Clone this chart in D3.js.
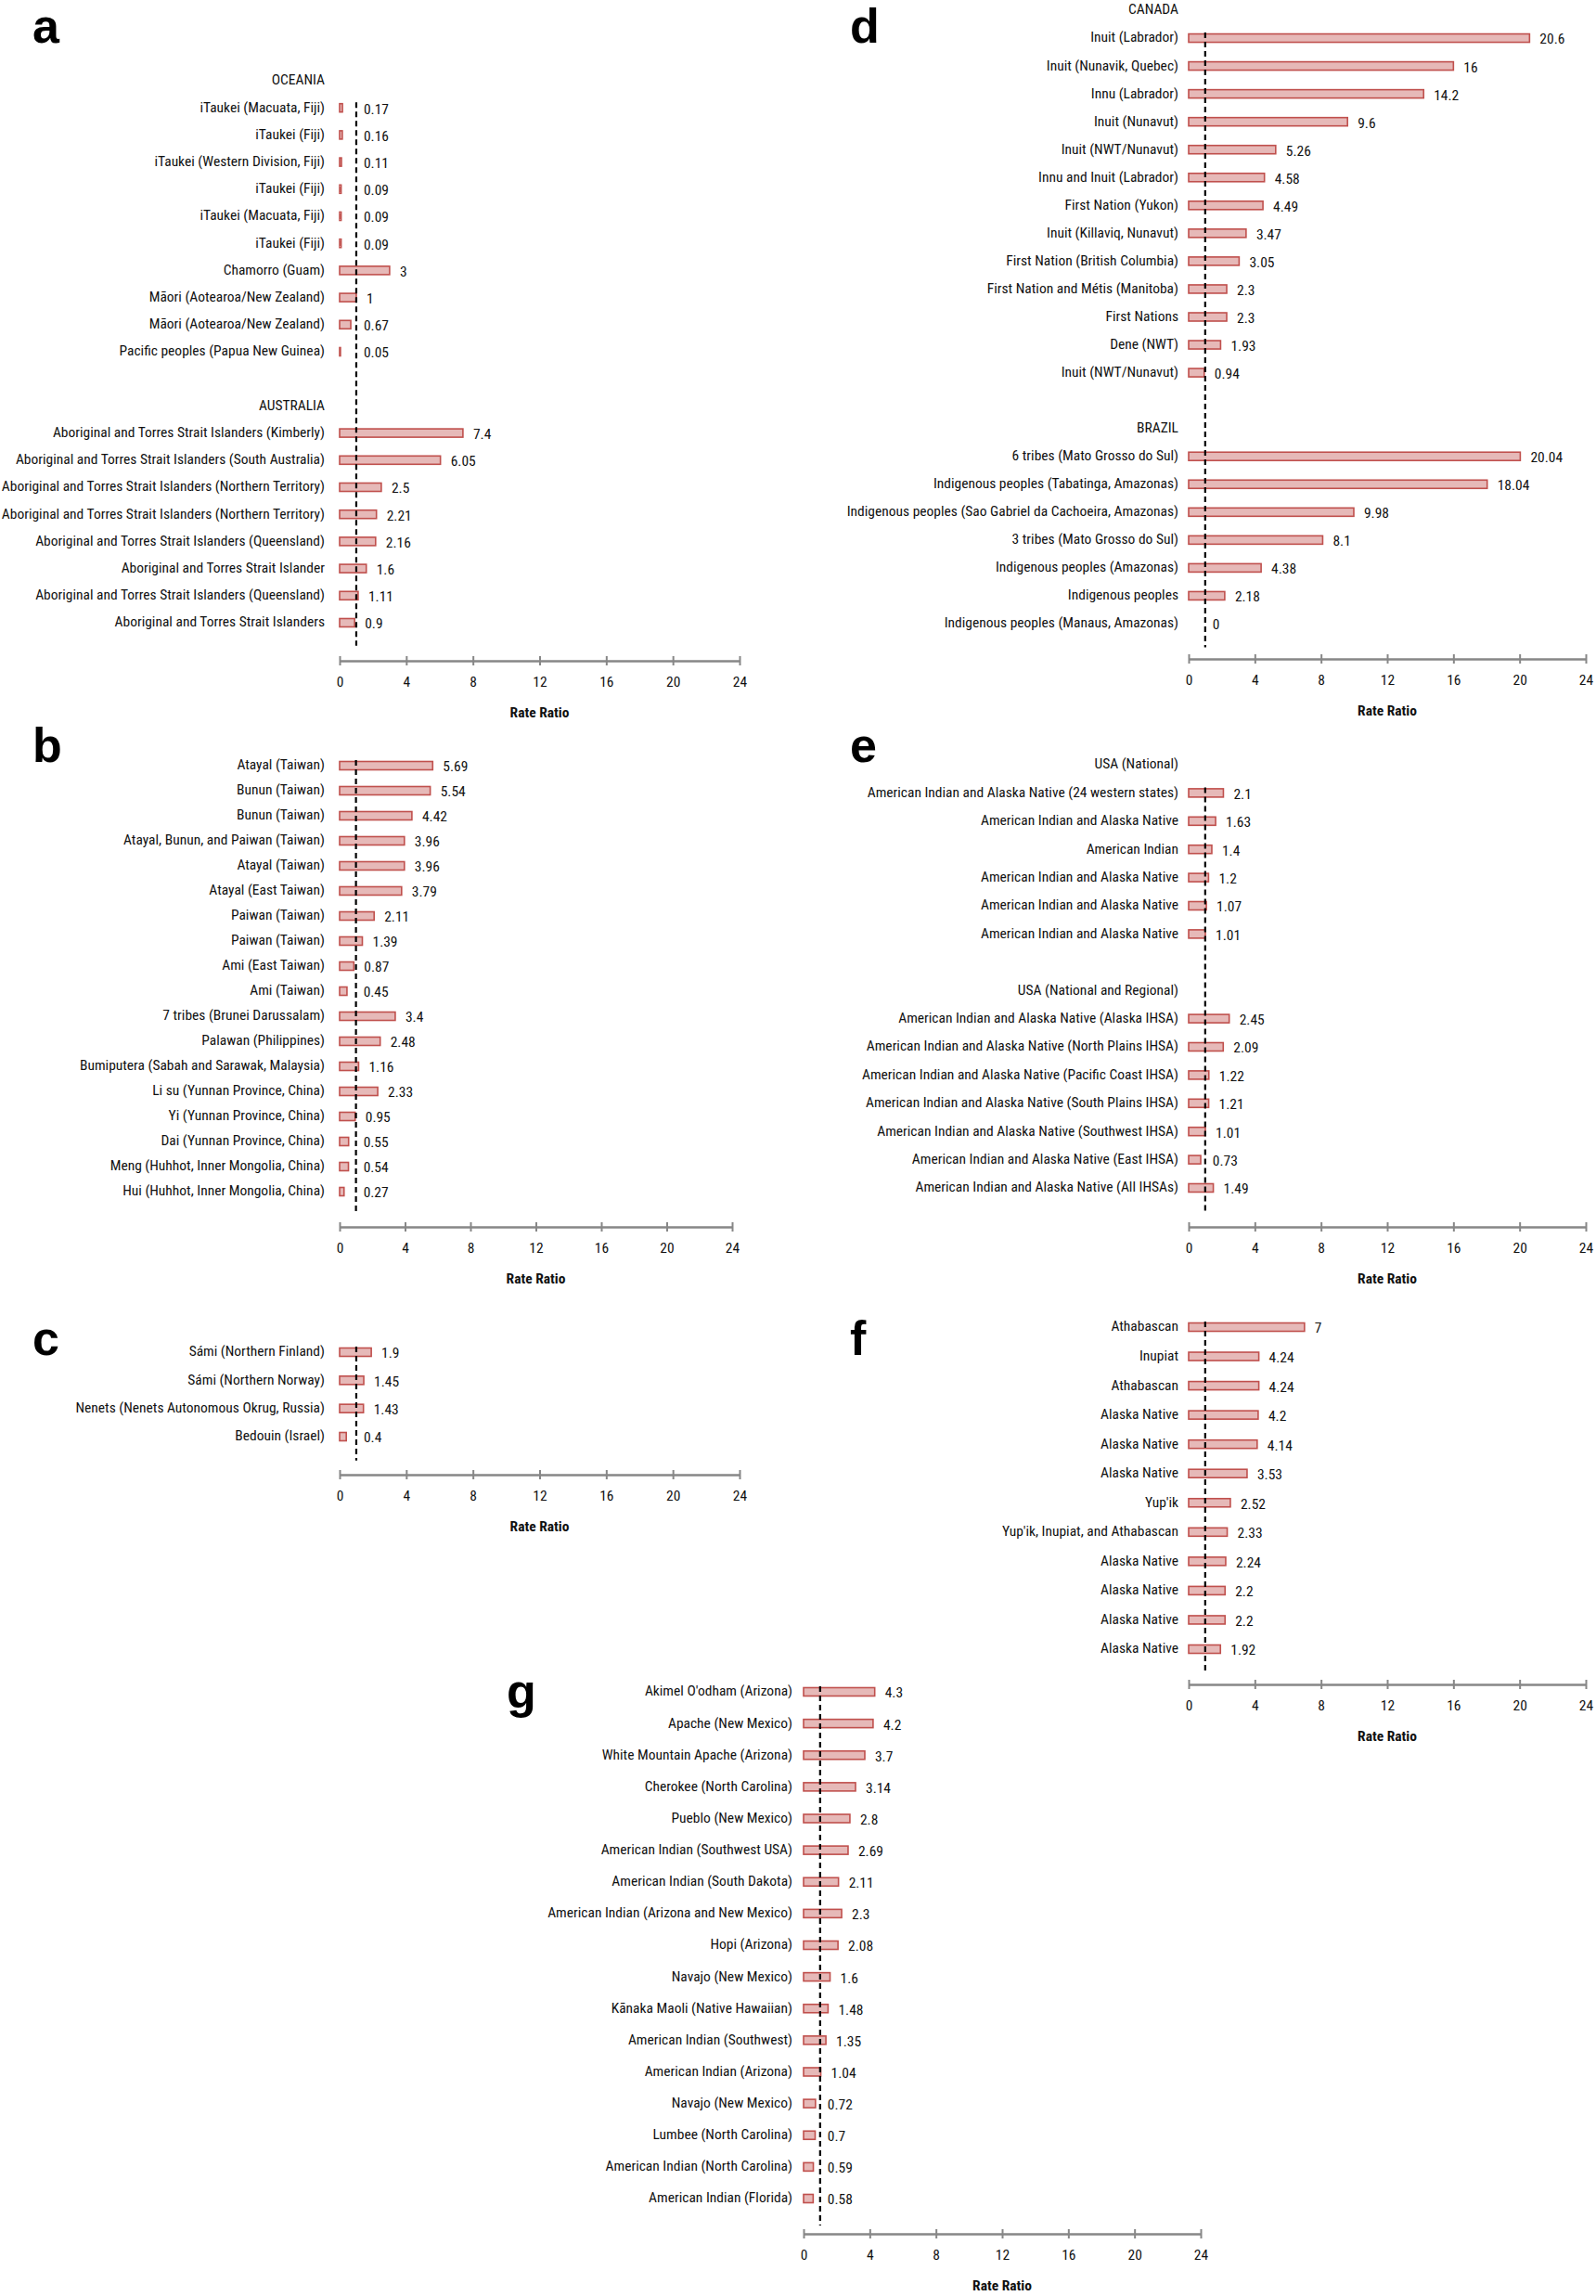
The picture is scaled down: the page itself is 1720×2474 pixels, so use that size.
<!DOCTYPE html>
<html>
<head>
<meta charset="utf-8">
<script src="https://cdn.jsdelivr.net/npm/d3@7"></script>
<style>
  html, body { margin: 0; padding: 0; background: #fff; }
  svg { display: block; }
  .lab { font-family: "Liberation Sans Narrow", "Arial Narrow", "Roboto Condensed", "Liberation Sans", sans-serif; font-size: 15.5px; fill: #111; }
  .letter { font-family: "Liberation Sans", Arial, sans-serif; font-weight: bold; font-size: 52px; fill: #000; }
</style>
</head>
<body>
<svg id="chart" width="1720" height="2474"></svg>
<script>
// ---------------- DATA ----------------
const tickValues = [0, 4, 8, 12, 16, 20, 24];
const axisTitle = "Rate Ratio";

const aLabels = ["OCEANIA",
  "iTaukei (Macuata, Fiji)", "iTaukei (Fiji)", "iTaukei (Western Division, Fiji)", "iTaukei (Fiji)",
  "iTaukei (Macuata, Fiji)", "iTaukei (Fiji)", "Chamorro (Guam)", "Māori (Aotearoa/New Zealand)",
  "Māori (Aotearoa/New Zealand)", "Pacific peoples (Papua New Guinea)", "",
  "AUSTRALIA",
  "Aboriginal and Torres Strait Islanders (Kimberly)", "Aboriginal and Torres Strait Islanders (South Australia)",
  "Aboriginal and Torres Strait Islanders (Northern Territory)", "Aboriginal and Torres Strait Islanders (Northern Territory)",
  "Aboriginal and Torres Strait Islanders (Queensland)", "Aboriginal and Torres Strait Islander",
  "Aboriginal and Torres Strait Islanders (Queensland)", "Aboriginal and Torres Strait Islanders"];
const aValues = [null, 0.17, 0.16, 0.11, 0.09, 0.09, 0.09, 3, 1, 0.67, 0.05, null,
  null, 7.4, 6.05, 2.5, 2.21, 2.16, 1.6, 1.11, 0.9];

const bLabels = ["Atayal (Taiwan)", "Bunun (Taiwan)", "Bunun (Taiwan)", "Atayal, Bunun, and Paiwan (Taiwan)",
  "Atayal (Taiwan)", "Atayal (East Taiwan)", "Paiwan (Taiwan)", "Paiwan (Taiwan)", "Ami (East Taiwan)",
  "Ami (Taiwan)", "7 tribes (Brunei Darussalam)", "Palawan (Philippines)",
  "Bumiputera (Sabah and Sarawak, Malaysia)", "Li su (Yunnan Province, China)", "Yi (Yunnan Province, China)",
  "Dai (Yunnan Province, China)", "Meng (Huhhot, Inner Mongolia, China)", "Hui (Huhhot, Inner Mongolia, China)"];
const bValues = [5.69, 5.54, 4.42, 3.96, 3.96, 3.79, 2.11, 1.39, 0.87, 0.45, 3.4, 2.48, 1.16, 2.33, 0.95, 0.55, 0.54, 0.27];

const cLabels = ["Sámi (Northern Finland)", "Sámi (Northern Norway)", "Nenets (Nenets Autonomous Okrug, Russia)", "Bedouin (Israel)"];
const cValues = [1.9, 1.45, 1.43, 0.4];

const dLabels = ["CANADA",
  "Inuit (Labrador)", "Inuit (Nunavik, Quebec)", "Innu (Labrador)", "Inuit (Nunavut)", "Inuit (NWT/Nunavut)",
  "Innu and Inuit (Labrador)", "First Nation (Yukon)", "Inuit (Killaviq, Nunavut)", "First Nation (British Columbia)",
  "First Nation and Métis (Manitoba)", "First Nations", "Dene (NWT)", "Inuit (NWT/Nunavut)", "",
  "BRAZIL",
  "6 tribes (Mato Grosso do Sul)", "Indigenous peoples (Tabatinga, Amazonas)",
  "Indigenous peoples (Sao Gabriel da Cachoeira, Amazonas)", "3 tribes (Mato Grosso do Sul)",
  "Indigenous peoples (Amazonas)", "Indigenous peoples", "Indigenous peoples (Manaus, Amazonas)"];
const dValues = [null, 20.6, 16, 14.2, 9.6, 5.26, 4.58, 4.49, 3.47, 3.05, 2.3, 2.3, 1.93, 0.94, null,
  null, 20.04, 18.04, 9.98, 8.1, 4.38, 2.18, 0];

const eLabels = ["USA (National)",
  "American Indian and Alaska Native (24 western states)", "American Indian and Alaska Native", "American Indian",
  "American Indian and Alaska Native", "American Indian and Alaska Native", "American Indian and Alaska Native", "",
  "USA (National and Regional)",
  "American Indian and Alaska Native (Alaska IHSA)", "American Indian and Alaska Native (North Plains IHSA)",
  "American Indian and Alaska Native (Pacific Coast IHSA)", "American Indian and Alaska Native (South Plains IHSA)",
  "American Indian and Alaska Native (Southwest IHSA)", "American Indian and Alaska Native (East IHSA)",
  "American Indian and Alaska Native (All IHSAs)"];
const eValues = [null, 2.1, 1.63, 1.4, 1.2, 1.07, 1.01, null, null, 2.45, 2.09, 1.22, 1.21, 1.01, 0.73, 1.49];

const fLabels = ["Athabascan", "Inupiat", "Athabascan", "Alaska Native", "Alaska Native", "Alaska Native", "Yup'ik",
  "Yup'ik, Inupiat, and Athabascan", "Alaska Native", "Alaska Native", "Alaska Native", "Alaska Native"];
const fValues = [7, 4.24, 4.24, 4.2, 4.14, 3.53, 2.52, 2.33, 2.24, 2.2, 2.2, 1.92];

const gLabels = ["Akimel O'odham (Arizona)", "Apache (New Mexico)", "White Mountain Apache (Arizona)",
  "Cherokee (North Carolina)", "Pueblo (New Mexico)", "American Indian (Southwest USA)",
  "American Indian (South Dakota)", "American Indian (Arizona and New Mexico)", "Hopi (Arizona)",
  "Navajo (New Mexico)", "Kānaka Maoli (Native Hawaiian)", "American Indian (Southwest)",
  "American Indian (Arizona)", "Navajo (New Mexico)", "Lumbee (North Carolina)",
  "American Indian (North Carolina)", "American Indian (Florida)"];
const gValues = [4.3, 4.2, 3.7, 3.14, 2.8, 2.69, 2.11, 2.3, 2.08, 1.6, 1.48, 1.35, 1.04, 0.72, 0.7, 0.59, 0.58];

// ---------------- LAYOUT ----------------
const panels = [
  { letter: "a", lx: 35, ly: 46, labels: aLabels, values: aValues, x0: 366, x1: 797, yFirst: 87, yLast: 671, axisY: 712, right: 350 },
  { letter: "b", lx: 35, ly: 821, labels: bLabels, values: bValues, x0: 366, x1: 789, yFirst: 825, yLast: 1284, axisY: 1322, right: 350 },
  { letter: "c", lx: 35, ly: 1460, labels: cLabels, values: cValues, x0: 366, x1: 797, yFirst: 1457, yLast: 1548, axisY: 1589, right: 350 },
  { letter: "d", lx: 916, ly: 46, labels: dLabels, values: dValues, x0: 1281, x1: 1709, yFirst: 11, yLast: 672, axisY: 710, right: 1270 },
  { letter: "e", lx: 916, ly: 821, labels: eLabels, values: eValues, x0: 1281, x1: 1709, yFirst: 824, yLast: 1280, axisY: 1322, right: 1270 },
  { letter: "f", lx: 916, ly: 1460, labels: fLabels, values: fValues, x0: 1281, x1: 1709, yFirst: 1430, yLast: 1777, axisY: 1815, right: 1270 },
  { letter: "g", lx: 546, ly: 1840, labels: gLabels, values: gValues, x0: 866, x1: 1294, yFirst: 1823, yLast: 2369, axisY: 2407, right: 854 }
];

const barH = 9;
const barFill = "#e6b9b8";
const barStroke = "#c0504d";
const axisColor = "#878787";

const svg = d3.select("#chart");
svg.append("rect").attr("width", 1720).attr("height", 2474).attr("fill", "#fff");

panels.forEach(p => {
  const g = svg.append("g");
  const idx = p.labels.map((d, i) => i);
  const x = d3.scaleLinear().domain([0, 24]).range([p.x0, p.x1]);
  const y = d3.scalePoint().domain(idx).range([p.yFirst, p.yLast]);
  const step = y.step();

  // panel letter
  g.append("text").attr("class", "letter").attr("x", p.lx).attr("y", p.ly).text(p.letter);

  // category labels
  g.selectAll("text.cat").data(idx).join("text")
    .attr("class", "lab cat")
    .attr("x", p.right)
    .attr("y", i => y(i) - 1)
    .attr("dy", "0.35em")
    .attr("text-anchor", "end")
    .text(i => p.labels[i]);

  const dataIdx = idx.filter(i => p.values[i] !== null);

  // bars
  g.selectAll("rect.bar").data(dataIdx).join("rect")
    .attr("class", "bar")
    .attr("x", x(0))
    .attr("y", i => y(i) - barH / 2)
    .attr("width", i => Math.max(0, x(p.values[i]) - x(0)))
    .attr("height", barH)
    .attr("fill", barFill)
    .attr("stroke", i => p.values[i] > 0 ? barStroke : "none")
    .attr("stroke-width", 1.6);

  // reference line at rate ratio 1
  const firstData = d3.min(dataIdx), lastData = d3.max(dataIdx);
  g.append("line")
    .attr("x1", x(1)).attr("x2", x(1))
    .attr("y1", y(firstData) - 6)
    .attr("y2", y(lastData) + step * 0.85)
    .attr("stroke", "#000").attr("stroke-width", 2.2)
    .attr("stroke-dasharray", "6,4");

  // value labels
  g.selectAll("text.val").data(dataIdx).join("text")
    .attr("class", "lab val")
    .attr("x", i => Math.max(x(p.values[i]) + 11, x(1) + 8))
    .attr("y", i => y(i) + 1)
    .attr("dy", "0.35em")
    .text(i => String(p.values[i]));

  // axis
  const axis = d3.axisBottom(x).tickValues(tickValues).tickSize(0).tickSizeOuter(0).tickPadding(17);
  const ag = g.append("g").attr("transform", `translate(0,${p.axisY})`).call(axis);
  ag.select(".domain").attr("stroke", axisColor).attr("stroke-width", 2.4);
  ag.selectAll(".tick").append("line").attr("y1", -5).attr("y2", 5).attr("stroke", axisColor).attr("stroke-width", 2);
  ag.selectAll(".tick text").attr("class", "lab").style("fill", "#111");
  ag.attr("font-family", null).attr("font-size", null);

  // axis title
  g.append("text").attr("class", "lab")
    .attr("x", (p.x0 + p.x1) / 2).attr("y", p.axisY + 61)
    .attr("text-anchor", "middle").attr("font-weight", "bold")
    .text(axisTitle);
});
</script>
</body>
</html>
